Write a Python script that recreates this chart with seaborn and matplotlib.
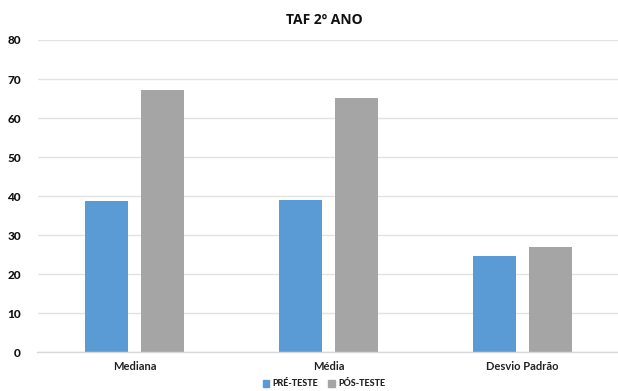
import matplotlib
matplotlib.use("Agg")
import matplotlib.pyplot as plt
import seaborn as sns
import pandas as pd

categories = ["Mediana", "Média", "Desvio Padrão"]
series_names = ["PRÉ-TESTE", "PÓS-TESTE"]
pre_teste = [38.8, 39.0, 24.7]
pos_teste = [67.3, 65.2, 26.9]
y_ticks = [0, 10, 20, 30, 40, 50, 60, 70, 80]

df = pd.DataFrame({
    "categoria": categories * 2,
    "serie": [series_names[0]] * 3 + [series_names[1]] * 3,
    "valor": pre_teste + pos_teste,
})

sns.set_theme(style="white")
plt.rcParams["font.family"] = ["Lato", "DejaVu Sans"]

fig = plt.figure(figsize=(6.18, 3.91), dpi=100)
ax = fig.add_axes([37.5 / 618, 1 - 352.3 / 391, 582 / 618, 312.3 / 391])

sns.barplot(data=df, x="categoria", y="valor", hue="serie",
            palette=["#5B9BD5", "#A5A5A5"], width=0.577, gap=0.22,
            saturation=1, linewidth=0, legend=False, ax=ax)

ax.set_ylim(0, 80)
ax.set_yticks(y_ticks)
ax.set_xlim(-0.5, 2.5)
ax.yaxis.grid(True, color="#E3E3E3", linewidth=1)
ax.set_axisbelow(True)
for s in ["top", "right", "left"]:
    ax.spines[s].set_visible(False)
ax.spines["bottom"].set_color("#D9D9D9")
ax.spines["bottom"].set_linewidth(1)
ax.set_xlabel("")
ax.set_ylabel("")
ax.tick_params(axis="both", length=0)
ax.tick_params(axis="y", pad=12, labelsize=8.5, labelcolor="#111111")
ax.tick_params(axis="x", pad=6, labelsize=8, labelcolor="#222222")
for lbl in ax.get_yticklabels():
    lbl.set_fontweight("black")
for lbl in ax.get_xticklabels():
    lbl.set_fontweight("bold")

fig.text(324 / 618, 1 - 20 / 391, "TAF 2º ANO", ha="center", va="center",
         fontsize=10, fontweight="bold", color="#111111",
         family=["Open Sans", "DejaVu Sans"])

handles = [plt.Rectangle((0, 0), 1, 1, color=c) for c in ["#5B9BD5", "#A5A5A5"]]
leg = fig.legend(handles, series_names, loc="center",
                 bbox_to_anchor=(324 / 618, 1 - 384 / 391),
                 ncol=2, frameon=False, handlelength=0.7, handleheight=0.7,
                 handletextpad=0.4, columnspacing=1.1,
                 prop={"size": 6.5, "weight": "black"})
for t in leg.get_texts():
    t.set_color("#222222")

fig.savefig("out.png", dpi=100)
